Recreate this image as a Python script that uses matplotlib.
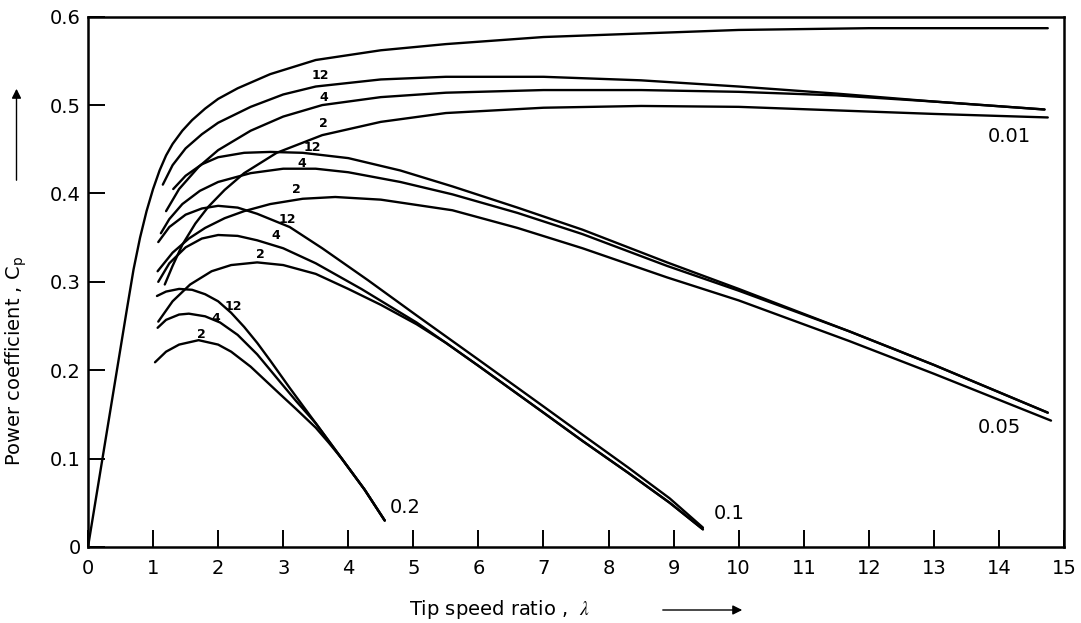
import matplotlib.pyplot as plt
import numpy as np

plt.rcParams['font.family'] = ['DejaVu Sans']
plt.rcParams['mathtext.fontset'] = 'stix'

# ideal rotor (top envelope)
lam_ideal = [0.0, 0.3, 0.6, 0.7, 0.8, 0.9, 1.0, 1.1, 1.2, 1.3, 1.45, 1.6, 1.8, 2.0, 2.3, 2.8, 3.5, 4.5, 5.5, 7.0, 8.5, 10.0, 12.0, 14.75]
cp_ideal = [0.0, 0.135, 0.27, 0.314, 0.35, 0.38, 0.405, 0.426, 0.443, 0.456, 0.471, 0.483, 0.496, 0.507, 0.519, 0.535, 0.551, 0.562, 0.569, 0.577, 0.581, 0.585, 0.587, 0.587]

# drag/lift 0.01
lam_d01_b12 = [1.15, 1.3, 1.5, 1.75, 2.0, 2.5, 3.0, 3.5, 4.5, 5.5, 7.0, 8.5, 10.0, 11.5, 13.0, 14.7]
cp_d01_b12 = [0.41, 0.432, 0.451, 0.467, 0.48, 0.498, 0.512, 0.521, 0.529, 0.532, 0.532, 0.528, 0.521, 0.513, 0.504, 0.495]
lam_d01_b4 = [1.2, 1.4, 1.7, 2.0, 2.5, 3.0, 3.6, 4.5, 5.5, 7.0, 8.5, 10.0, 11.5, 13.0, 14.7]
cp_d01_b4 = [0.38, 0.405, 0.43, 0.449, 0.471, 0.487, 0.5, 0.509, 0.514, 0.517, 0.517, 0.515, 0.511, 0.504, 0.495]
lam_d01_b2 = [1.18, 1.3, 1.45, 1.65, 1.85, 2.1, 2.4, 2.9, 3.6, 4.5, 5.5, 7.0, 8.5, 10.0, 11.5, 13.0, 14.75]
cp_d01_b2 = [0.297, 0.318, 0.342, 0.366, 0.385, 0.404, 0.423, 0.446, 0.466, 0.481, 0.491, 0.497, 0.499, 0.498, 0.494, 0.49, 0.486]

# drag/lift 0.05
lam_d05_b12 = [1.31, 1.5, 1.75, 2.0, 2.4, 2.8, 3.3, 4.0, 4.8, 5.6, 6.6, 7.6, 8.9, 10.0, 11.7, 13.0, 14.75]
cp_d05_b12 = [0.405, 0.42, 0.433, 0.441, 0.446, 0.447, 0.446, 0.44, 0.426, 0.408, 0.384, 0.359, 0.322, 0.292, 0.244, 0.206, 0.152]
lam_d05_b4 = [1.12, 1.25, 1.45, 1.72, 2.0, 2.5, 3.0, 3.5, 4.0, 4.8, 5.6, 6.6, 7.6, 8.9, 10.0, 11.7, 13.0, 14.75]
cp_d05_b4 = [0.355, 0.371, 0.388, 0.403, 0.413, 0.423, 0.428, 0.428, 0.424, 0.413, 0.399, 0.378, 0.354, 0.318, 0.29, 0.244, 0.206, 0.152]
lam_d05_b2 = [1.07, 1.3, 1.55, 1.8, 2.1, 2.4, 2.8, 3.3, 3.8, 4.5, 5.6, 6.6, 7.6, 8.9, 10.0, 11.7, 13.0, 14.8]
cp_d05_b2 = [0.312, 0.333, 0.349, 0.361, 0.372, 0.38, 0.388, 0.394, 0.396, 0.393, 0.381, 0.361, 0.338, 0.305, 0.279, 0.233, 0.196, 0.143]

# drag/lift 0.1
lam_d10_b12 = [1.08, 1.25, 1.5, 1.75, 2.0, 2.3, 2.6, 3.1, 3.6, 4.3, 5.05, 6.0, 7.0, 7.6, 8.3, 8.94, 9.45]
cp_d10_b12 = [0.345, 0.362, 0.376, 0.383, 0.386, 0.384, 0.377, 0.362, 0.338, 0.302, 0.262, 0.212, 0.159, 0.127, 0.09, 0.055, 0.022]
lam_d10_b4 = [1.08, 1.25, 1.5, 1.75, 2.0, 2.3, 2.6, 3.0, 3.5, 4.2, 5.05, 5.5, 6.0, 7.0, 7.6, 8.3, 8.94, 9.45]
cp_d10_b4 = [0.3, 0.321, 0.339, 0.349, 0.353, 0.352, 0.347, 0.338, 0.321, 0.292, 0.254, 0.231, 0.205, 0.152, 0.12, 0.084, 0.05, 0.02]
lam_d10_b2 = [1.08, 1.3, 1.57, 1.9, 2.2, 2.6, 3.0, 3.5, 4.0, 4.5, 5.05, 5.5, 6.0, 7.0, 7.6, 8.3, 8.94, 9.45]
cp_d10_b2 = [0.255, 0.278, 0.297, 0.312, 0.319, 0.322, 0.319, 0.309, 0.292, 0.274, 0.252, 0.231, 0.205, 0.152, 0.12, 0.084, 0.05, 0.02]

# drag/lift 0.2
lam_d20_b12 = [1.06, 1.2, 1.4, 1.6, 1.8, 2.0, 2.2, 2.4, 2.6, 2.8, 3.1, 3.5, 3.9, 4.25, 4.56]
cp_d20_b12 = [0.284, 0.289, 0.292, 0.291, 0.286, 0.278, 0.265, 0.249, 0.231, 0.211, 0.18, 0.14, 0.1, 0.065, 0.03]
lam_d20_b4 = [1.07, 1.2, 1.4, 1.55, 1.8, 2.03, 2.3, 2.6, 2.95, 3.2, 3.5, 3.9, 4.25, 4.56]
cp_d20_b4 = [0.248, 0.257, 0.263, 0.264, 0.261, 0.254, 0.24, 0.218, 0.187, 0.165, 0.14, 0.1, 0.065, 0.03]
lam_d20_b2 = [1.03, 1.2, 1.4, 1.7, 2.0, 2.2, 2.5, 2.95, 3.2, 3.5, 3.7, 3.9, 4.25, 4.56]
cp_d20_b2 = [0.209, 0.221, 0.229, 0.234, 0.229, 0.221, 0.204, 0.173, 0.156, 0.135, 0.118, 0.1, 0.065, 0.03]

curves = [
    (lam_ideal, cp_ideal),
    (lam_d01_b12, cp_d01_b12), (lam_d01_b4, cp_d01_b4), (lam_d01_b2, cp_d01_b2),
    (lam_d05_b12, cp_d05_b12), (lam_d05_b4, cp_d05_b4), (lam_d05_b2, cp_d05_b2),
    (lam_d10_b12, cp_d10_b12), (lam_d10_b4, cp_d10_b4), (lam_d10_b2, cp_d10_b2),
    (lam_d20_b12, cp_d20_b12), (lam_d20_b4, cp_d20_b4), (lam_d20_b2, cp_d20_b2),
]

fig = plt.figure(figsize=(10.81, 6.23), dpi=100)
ax = fig.add_axes([0.0814, 0.122, 0.9029, 0.8512])

for lam, cp in curves:
    ax.plot(lam, cp, color='black', lw=1.7, solid_joinstyle='round', solid_capstyle='round')

# blade number labels
blade_labels = [
    ('12', 3.57, 0.534), ('4', 3.62, 0.509), ('2', 3.62, 0.479),
    ('12', 3.44, 0.452), ('4', 3.29, 0.434), ('2', 3.21, 0.405),
    ('12', 3.06, 0.371), ('4', 2.88, 0.352), ('2', 2.65, 0.331),
    ('12', 2.24, 0.272), ('4', 1.97, 0.259), ('2', 1.75, 0.240),
]
for txt, x, y in blade_labels:
    ax.text(x, y, txt, fontsize=9, fontweight='bold', ha='center', va='center')

# drag ratio labels
drag_labels = [('0.01', 14.16, 0.464), ('0.05', 14.01, 0.135), ('0.1', 9.85, 0.038), ('0.2', 4.88, 0.045)]
for txt, x, y in drag_labels:
    ax.text(x, y, txt, fontsize=14, ha='center', va='center')

ax.set_xlim(0, 15)
ax.set_ylim(0, 0.6)
ax.set_xticks(range(16))
ax.set_xticklabels([str(i) for i in range(16)])
ax.set_yticks([0, 0.1, 0.2, 0.3, 0.4, 0.5, 0.6])
ax.set_yticklabels(['0', '0.1', '0.2', '0.3', '0.4', '0.5', '0.6'])
ax.tick_params(direction='in', length=12, width=1.4, labelsize=14)
ax.tick_params(axis='x', pad=9)
ax.tick_params(axis='y', pad=5)
for s in ax.spines.values():
    s.set_linewidth(1.8)

ax.set_xlabel(r'Tip speed ratio ,  $\lambda$', fontsize=14, va='center')
ax.xaxis.set_label_coords(0.422, -0.118)
ax.set_ylabel(r'Power coefficient , $\mathregular{C_p}$', fontsize=14, va='center')
ax.yaxis.set_label_coords(-0.073, 0.351)

# arrows beside the axis titles
ax.annotate('', xy=(745 / 1081, 1 - 610 / 623), xytext=(660 / 1081, 1 - 610 / 623),
            xycoords='figure fraction', textcoords='figure fraction',
            arrowprops=dict(arrowstyle='-|>', lw=1.0, color='black', mutation_scale=14))
ax.annotate('', xy=(16.5 / 1081, 1 - 86 / 623), xytext=(16.5 / 1081, 1 - 183 / 623),
            xycoords='figure fraction', textcoords='figure fraction',
            arrowprops=dict(arrowstyle='-|>', lw=1.0, color='black', mutation_scale=14))

fig.savefig('out.png', dpi=100)
